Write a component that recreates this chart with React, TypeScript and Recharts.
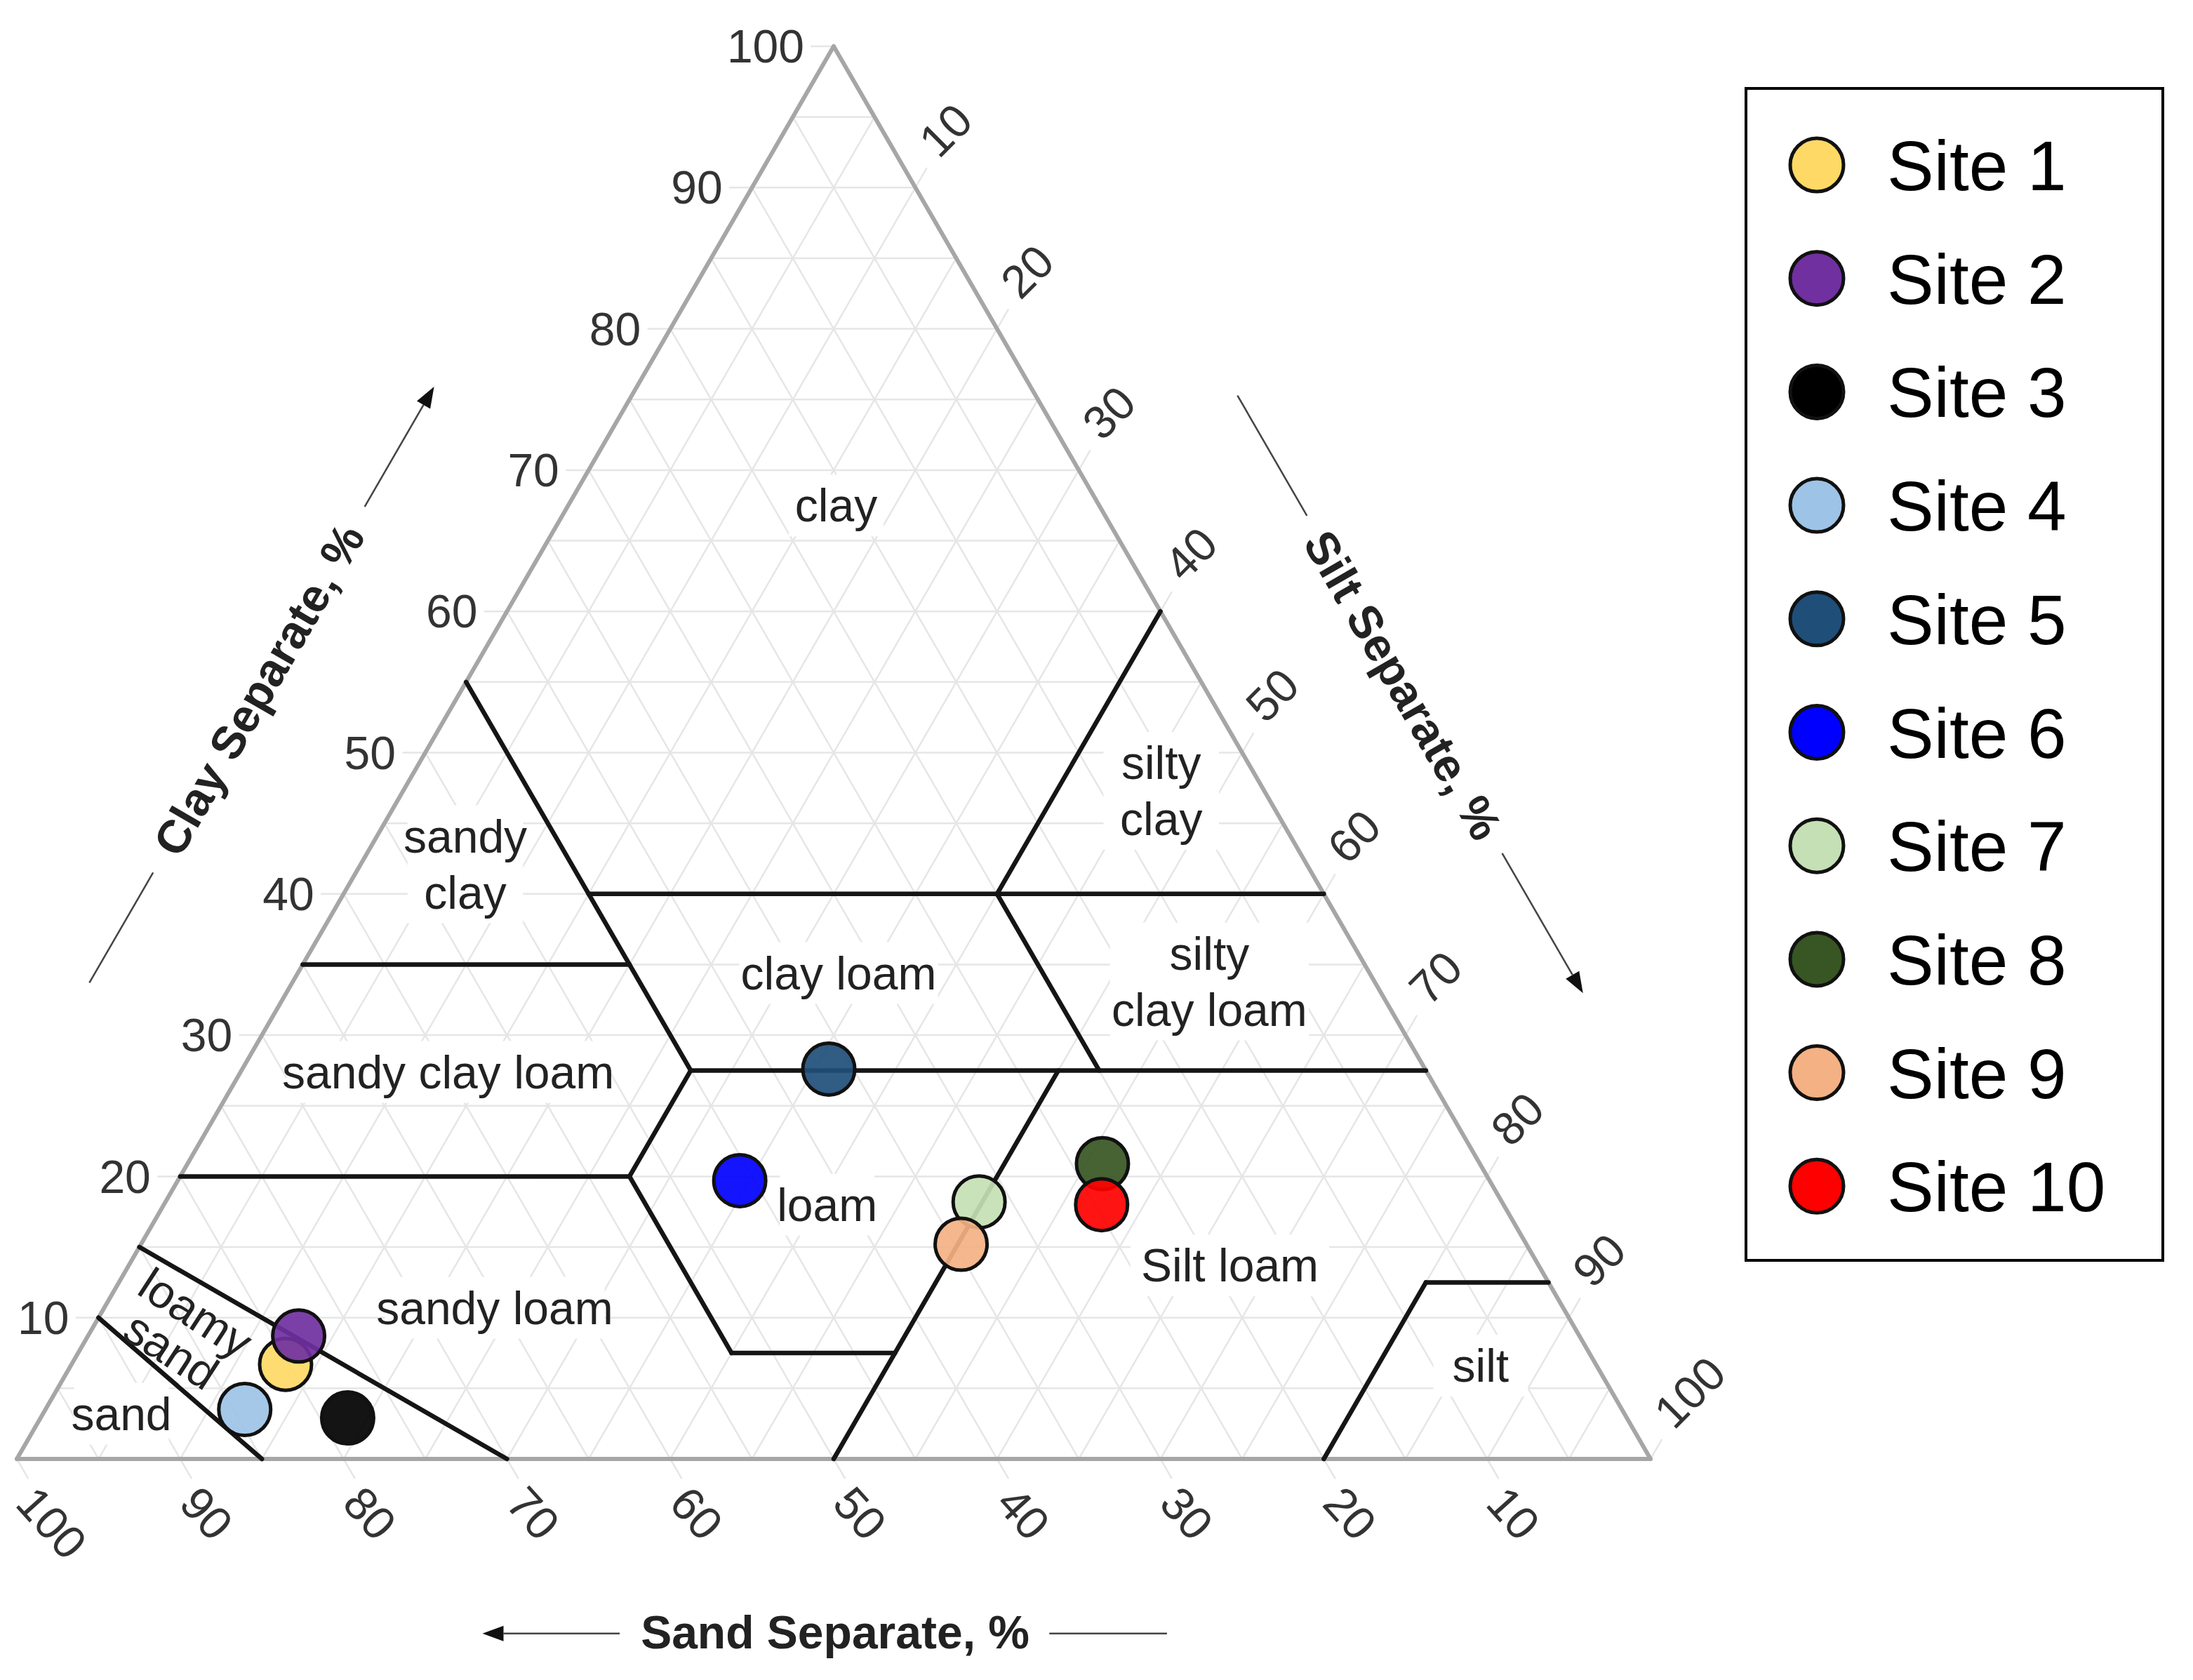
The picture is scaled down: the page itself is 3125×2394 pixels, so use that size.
import React from 'react';
import { ScatterChart, Scatter, XAxis, YAxis, ReferenceLine, ReferenceDot, Legend } from 'recharts';

// Soil texture triangle (USDA classes) with 10 sampling sites.
// Ternary -> cartesian: x = silt + clay / 2, y = clay * sqrt(3) / 2 (side = 100).

const SQ = Math.sqrt(3) / 2;
const H = 100 * SQ;
const FONT = '"Liberation Sans", Arial, Helvetica, sans-serif';

// ---- sites (percent) ----
const siteNames = ['Site 1', 'Site 2', 'Site 3', 'Site 4', 'Site 5', 'Site 6', 'Site 7', 'Site 8', 'Site 9', 'Site 10'];
const sandPct = [80.2, 78.4, 78.3, 84.3, 36.5, 45.9, 32.0, 23.1, 34.6, 24.6];
const siltPct = [13.1, 12.9, 18.8, 12.2, 35.9, 34.4, 49.8, 56.0, 50.2, 57.4];
const clayPct = [6.7, 8.7, 2.9, 3.5, 27.6, 19.7, 18.2, 20.9, 15.2, 18.0];
const siteColors = ['#FFD966', '#7030A0', '#000000', '#9DC3E6', '#1F4E79', '#0000FF', '#C5E0B4', '#375623', '#F4B183', '#FF0000'];

// ---- axes ----
const tickValues = [10, 20, 30, 40, 50, 60, 70, 80, 90, 100];
const gridValues = [5, 10, 15, 20, 25, 30, 35, 40, 45, 50, 55, 60, 65, 70, 75, 80, 85, 90, 95];

// ---- USDA class boundaries: [silt, clay] -> [silt, clay] ----
const boundaries = [
  [0, 55, 27.5, 27.5],
  [0, 35, 20, 35],
  [15, 40, 60, 40],
  [40, 60, 40, 40],
  [40, 40, 52.5, 27.5],
  [27.5, 27.5, 72.5, 27.5],
  [0, 20, 27.5, 20],
  [27.5, 27.5, 27.5, 20],
  [27.5, 20, 40, 7.5],
  [40, 7.5, 50, 7.5],
  [50, 0, 50, 27.5],
  [80, 0, 80, 12.5],
  [80, 12.5, 87.5, 12.5],
  [0, 15, 30, 0],
  [0, 10, 15, 0],
];

const classNames = ['clay', 'sandy\nclay', 'silty\nclay', 'clay loam', 'silty\nclay loam', 'sandy clay loam', 'loam', 'Silt loam', 'sandy loam', 'silt', 'sand', 'loamy\nsand'];

// where each class name sits: [silt, clay, rotation]
const classSpots = [
  [16.4, 67.5, 0],
  [6.4, 42.1, 0],
  [46.4, 47.3, 0],
  [33.1, 34.4, 0],
  [56.1, 33.8, 0],
  [12.7, 27.4, 0],
  [40.6, 18.0, 0],
  [67.4, 13.7, 0],
  [23.9, 10.7, 0],
  [86.3, 6.6, 0],
  [4.8, 3.2, 0],
  [5.7, 9.0, 33],
];

const toXY = (silt: number, clay: number) => ({ x: silt + clay / 2, y: clay * SQ });
// offset from the left edge (t along edge from bottom-left, d outward)
const leftOut = (t: number, d: number) => ({ x: 0.5 * t - SQ * d, y: SQ * t + 0.5 * d });
// offset from the right edge (t along edge from apex, d outward)
const rightOut = (t: number, d: number) => ({ x: 50 + 0.5 * t + SQ * d, y: H - SQ * t + 0.5 * d });

type TextOpts = {
  dx?: number;
  dy?: number;
  angle?: number;
  anchor?: 'start' | 'middle' | 'end';
  size: number;
  weight?: string | number;
  color?: string;
  lineHeight?: number;
  bg?: boolean;
};

const textShape = (label: string, o: TextOpts) => (p: any) => {
  const lines = label.split('\n');
  const x = p.cx + (o.dx ?? 0);
  const y = p.cy + (o.dy ?? 0);
  const lh = o.lineHeight ?? o.size * 1.2;
  const top = y - ((lines.length - 1) * lh) / 2;
  const w = Math.max(...lines.map((l) => l.length)) * o.size * 0.45 + 16;
  return (
    <g transform={o.angle ? `rotate(${o.angle} ${x} ${y})` : undefined}>
      {o.bg && <rect x={x - w / 2} y={top - lh / 2 - 4} width={w} height={lines.length * lh + 8} fill="#fff" />}
      <text
        textAnchor={o.anchor ?? 'middle'}
        fontSize={o.size}
        fontFamily={FONT}
        fontWeight={o.weight ?? 'normal'}
        fill={o.color ?? '#222'}
      >
        {lines.map((l, i) => (
          <tspan key={i} x={x} y={top + i * lh + o.size * 0.35}>
            {l}
          </tspan>
        ))}
      </text>
    </g>
  );
};

const arrowShape = (p: any) => {
  const { x1, y1, x2, y2 } = p;
  const a = Math.atan2(y2 - y1, x2 - x1);
  const L = 30;
  const W = 11;
  const bx = x2 - L * Math.cos(a);
  const by = y2 - L * Math.sin(a);
  const pts = `${x2},${y2} ${bx - W * Math.sin(a)},${by + W * Math.cos(a)} ${bx + W * Math.sin(a)},${by - W * Math.cos(a)}`;
  return (
    <g>
      <line x1={x1} y1={y1} x2={bx} y2={by} stroke="#444" strokeWidth={2.5} />
      <polygon points={pts} fill="#111" />
    </g>
  );
};

const siteDot = (color: string) => (p: any) => (
  <circle cx={p.cx} cy={p.cy} r={37} fill={color} fillOpacity={0.92} stroke="#111" strokeWidth={5} />
);

const renderLegend = (props: any) => {
  const items = [...(props.payload ?? [])].sort(
    (a: any, b: any) => siteNames.indexOf(a.value) - siteNames.indexOf(b.value)
  );
  return (
    <svg width={598} height={1674}>
      <rect x={2} y={2} width={594} height={1670} fill="#fff" stroke="#000" strokeWidth={4} />
      {items.map((e: any, i: number) => (
        <g key={e.value}>
          <circle cx={103} cy={111 + i * 161.7} r={38} fill={e.color} stroke="#111" strokeWidth={5} />
          <text x={203} y={111 + i * 161.7 + 36} fontSize={100} fontFamily={FONT} fill="#000">
            {e.value}
          </text>
        </g>
      ))}
    </svg>
  );
};

const TK = 1.4;
const gridSegments = gridValues.flatMap((v) => [
  [toXY(0, v), toXY(100 - v, v)],
  [toXY(v, 0), toXY(v, 100 - v)],
  [toXY(100 - v, 0), toXY(0, 100 - v)],
]);
const tickSegments = tickValues.flatMap((v) => [
  [toXY(0, v), toXY(-TK, v)],
  [toXY(v, 100 - v), toXY(v, 100 - v + TK)],
  [toXY(100 - v, 0), toXY(100 - v + TK, -TK)],
]);
const edges = [
  [toXY(0, 0), toXY(100, 0)],
  [toXY(100, 0), toXY(0, 100)],
  [toXY(0, 100), toXY(0, 0)],
];

export default function App() {
  return (
    <div style={{ position: 'absolute', left: 0, top: 0, width: 3125, height: 2394, background: '#fff' }}>
      <ScatterChart width={3125} height={2394} margin={{ top: 66, right: 773, bottom: 315, left: 24 }}>
        <XAxis type="number" dataKey="x" domain={[0, 100]} allowDataOverflow hide />
        <YAxis type="number" dataKey="y" domain={[0, H]} allowDataOverflow hide />

        {gridSegments.map((s, i) => (
          <ReferenceLine key={`g${i}`} segment={s} stroke="#e6e6e6" strokeWidth={2.5} ifOverflow="visible" />
        ))}
        {tickSegments.map((s, i) => (
          <ReferenceLine key={`t${i}`} segment={s} stroke="#e6e6e6" strokeWidth={2.5} ifOverflow="visible" />
        ))}

        {classNames.map((name, i) => {
          const p = toXY(classSpots[i][0], classSpots[i][1]);
          const rotated = classSpots[i][2] !== 0;
          return (
            <ReferenceDot
              key={`c${i}`}
              x={p.x}
              y={p.y}
              r={1}
              ifOverflow="visible"
              shape={textShape(name, {
                size: 66,
                angle: classSpots[i][2],
                lineHeight: rotated ? 64 : 80,
                bg: !rotated,
              })}
            />
          );
        })}

        {edges.map((s, i) => (
          <ReferenceLine key={`e${i}`} segment={s} stroke="#a6a6a6" strokeWidth={6} strokeLinecap="round" ifOverflow="visible" />
        ))}
        {boundaries.map((b, i) => (
          <ReferenceLine
            key={`b${i}`}
            segment={[toXY(b[0], b[1]), toXY(b[2], b[3])]}
            stroke="#151515"
            strokeWidth={6.5}
            strokeLinecap="round"
            ifOverflow="visible"
          />
        ))}

        {tickValues.map((v) => {
          const l = toXY(0, v);
          const r = toXY(v, 100 - v);
          const b = toXY(100 - v, 0);
          return (
            <React.Fragment key={`tl${v}`}>
              <ReferenceDot x={l.x} y={l.y} r={1} ifOverflow="visible"
                shape={textShape(String(v), { size: 66, dx: -42, anchor: 'end', color: '#333' })} />
              <ReferenceDot x={r.x} y={r.y} r={1} ifOverflow="visible"
                shape={textShape(String(v), { size: 66, dx: 17, dy: -56, angle: -45, anchor: 'start', color: '#333' })} />
              <ReferenceDot x={b.x} y={b.y} r={1} ifOverflow="visible"
                shape={textShape(String(v), { size: 66, dx: 13, dy: 50, angle: 48, anchor: 'start', color: '#333' })} />
            </React.Fragment>
          );
        })}

        {/* axis titles */}
        <ReferenceLine segment={[leftOut(27.5, 10.75), leftOut(35.3, 10.75)]} stroke="#444" strokeWidth={2.5} ifOverflow="visible" />
        <ReferenceLine segment={[leftOut(61.2, 10.75), leftOut(69.7, 10.75)]} shape={arrowShape} ifOverflow="visible" />
        <ReferenceDot {...leftOut(48.25, 10.75)} r={1} ifOverflow="visible"
          shape={textShape('Clay Separate, %', { size: 66, weight: 'bold', angle: -60 })} />

        <ReferenceLine segment={[rightOut(30.9, 10.7), rightOut(39.4, 10.7)]} stroke="#444" strokeWidth={2.5} ifOverflow="visible" />
        <ReferenceLine segment={[rightOut(63.3, 10.7), rightOut(73.2, 10.7)]} shape={arrowShape} ifOverflow="visible" />
        <ReferenceDot {...rightOut(51.35, 10.6)} r={1} ifOverflow="visible"
          shape={textShape('Silt Separate, %', { size: 66, weight: 'bold', angle: 60 })} />

        <ReferenceLine segment={[{ x: 36.9, y: -10.7 }, { x: 28.5, y: -10.7 }]} shape={arrowShape} ifOverflow="visible" />
        <ReferenceLine segment={[{ x: 63.2, y: -10.7 }, { x: 70.4, y: -10.7 }]} stroke="#444" strokeWidth={2.5} ifOverflow="visible" />
        <ReferenceDot x={50.09} y={-10.63} r={1} ifOverflow="visible"
          shape={textShape('Sand Separate, %', { size: 66, weight: 'bold' })} />

        {siteNames.map((name, i) => (
          <Scatter
            key={name}
            name={name}
            data={[{ ...toXY(siltPct[i], clayPct[i]), sand: sandPct[i] }]}
            fill={siteColors[i]}
            shape={siteDot(siteColors[i])}
            isAnimationActive={false}
          />
        ))}

        <Legend
          layout="vertical"
          align="center"
          verticalAlign="middle"
          wrapperStyle={{ left: 2486, top: 124, width: 598, height: 1674 }}
          content={renderLegend}
        />
      </ScatterChart>
    </div>
  );
}
